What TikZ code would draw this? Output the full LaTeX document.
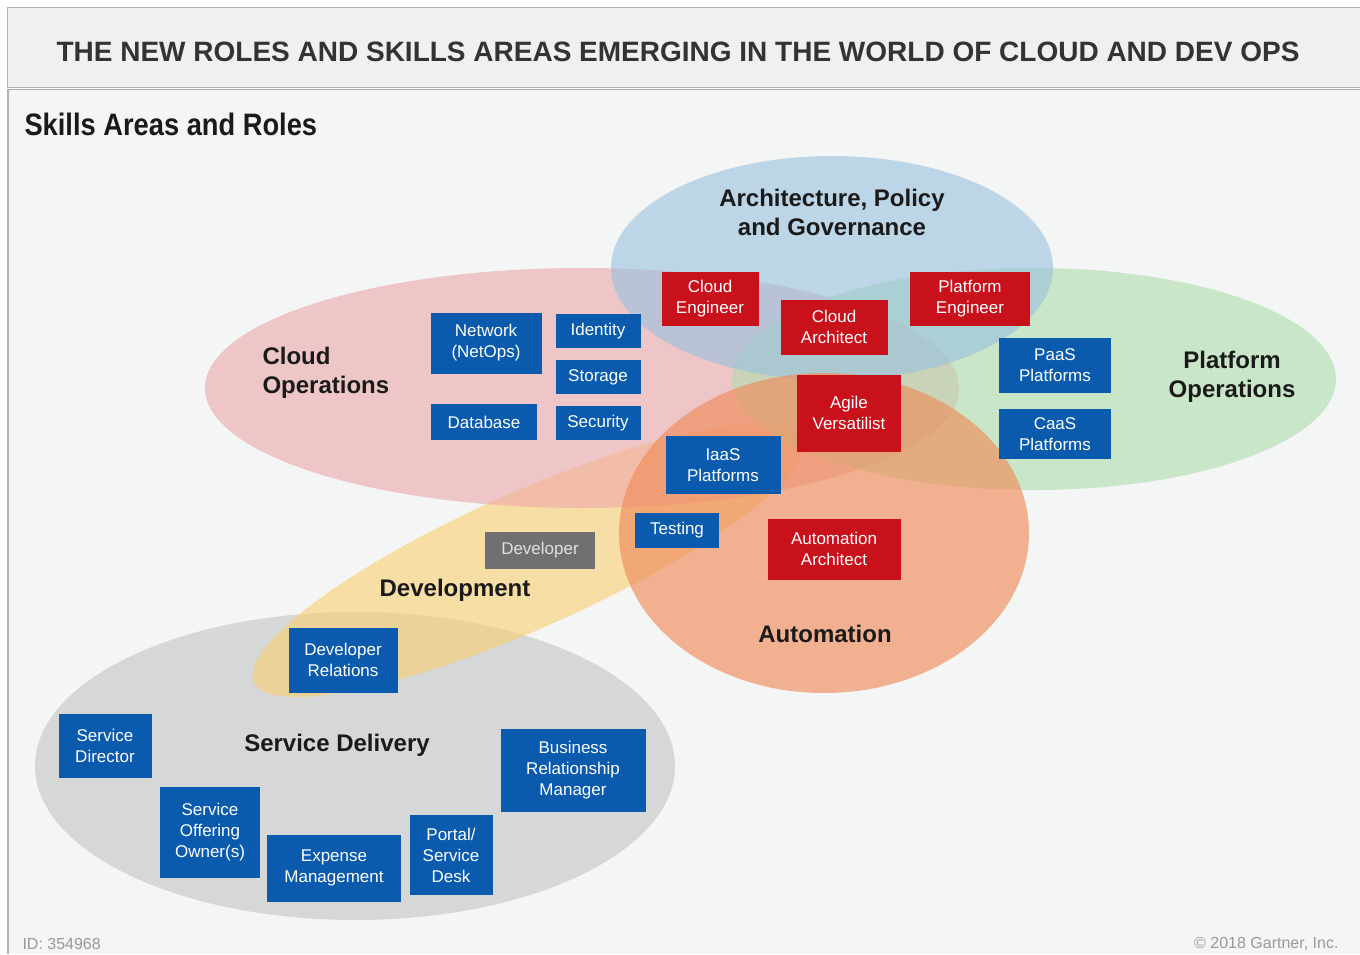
\documentclass[tikz,border=0pt]{standalone}
\usepackage{fontspec}
\setmainfont{Liberation Sans}
\newfontfamily\narrowfont{Liberation Sans}[FakeStretch=0.88]
\definecolor{boxblue}{HTML}{0A5BAE}
\definecolor{boxred}{HTML}{C8111B}
\definecolor{boxgray}{HTML}{707070}
\definecolor{labcol}{HTML}{1A1A1A}
\definecolor{headbg}{HTML}{F0F0F0}
\definecolor{panelbg}{HTML}{F4F5F5}
\definecolor{ellblue}{RGB}{152,192,223}
\definecolor{ellpink}{RGB}{237,168,170}
\definecolor{ellgreen}{RGB}{175,220,172}
\definecolor{ellorange}{RGB}{240,140,90}
\definecolor{ellyellow}{RGB}{250,207,112}
\definecolor{ellgray}{RGB}{195,195,195}
\begin{document}
\begin{tikzpicture}[x=1pt,y=-1pt,
  box/.style={fill=boxblue, text=white, align=center, inner sep=0pt, font=\fontsize{17}{21}\selectfont},
  rbox/.style={box, fill=boxred},
  gbox/.style={box, fill=boxgray, text=white!88!black},
  lab/.style={text=labcol, font=\fontsize{24}{29}\selectfont\bfseries, align=center},
  ell/.style={fill opacity=0.6},
  foot/.style={text=black!40, font=\fontsize{16}{18}\selectfont}]
\useasboundingbox (0,0) rectangle (1360,954);
\fill[white] (0,0) rectangle (1360,954);
% panel
\fill[panelbg] (8,89) rectangle (1360,954);
\draw[black!35] (8,89) -- (1360,89);
\draw[black!30, line width=1.5pt] (8,89) -- (8,954);
% header
\filldraw[fill=headbg, draw=black!30] (7,7) rectangle (1362,87);
\node[text=black!80, font=\fontsize{28}{32}\selectfont\bfseries] (title) at (678,52) {THE NEW ROLES AND SKILLS AREAS EMERGING IN THE WORLD OF CLOUD AND DEV OPS};
\node[anchor=west, text=labcol, font=\narrowfont\fontsize{31}{35}\selectfont\bfseries] (sub) at (21,124) {Skills Areas and Roles};

% ellipses
\fill[ell, ellgray] (355,766) ellipse [x radius=320pt, y radius=154pt];
\fill[ell, ellyellow, shift={(528,560)}, rotate=24] (0,0) ellipse [x radius=300pt, y radius=68pt];
\fill[ell, ellpink] (582,388) ellipse [x radius=377pt, y radius=120pt];
\fill[ell, ellgreen] (1034,379) ellipse [x radius=302pt, y radius=111pt];
\fill[ell, ellblue] (832,268) ellipse [x radius=221pt, y radius=112pt];
\fill[fill opacity=0.65, ellorange] (824,533) ellipse [x radius=205pt, y radius=160pt];

% area labels
\node[lab] (arch) at (832,212) {Architecture, Policy\\and Governance};
\node[lab, align=left, anchor=west] (cloudops) at (259,373) {Cloud\\Operations};
\node[lab] (platops) at (1232,377) {Platform\\Operations};
\node[lab] (dev) at (455,590) {Development};
\node[lab] (auto) at (825,634) {Automation};
\node[lab] (sd) at (337,745) {Service Delivery};

% boxes
\node[box, minimum width=111pt, minimum height=61pt] (netops) at (486,343) {Network\\(NetOps)};
\node[box, minimum width=85pt, minimum height=34pt] (identity) at (598,331) {Identity};
\node[box, minimum width=85pt, minimum height=34pt] (storage) at (598,377) {Storage};
\node[box, minimum width=106pt, minimum height=36pt] (database) at (484,422) {Database};
\node[box, minimum width=85pt, minimum height=34pt] (security) at (598,423) {Security};
\node[rbox, minimum width=97pt, minimum height=54pt] (ceng) at (710,299) {Cloud\\Engineer};
\node[rbox, minimum width=107pt, minimum height=55pt] (carch) at (834,327) {Cloud\\Architect};
\node[rbox, minimum width=120pt, minimum height=54pt] (peng) at (970,299) {Platform\\Engineer};
\node[box, minimum width=112pt, minimum height=55pt] (paas) at (1055,365) {PaaS\\Platforms};
\node[box, minimum width=112pt, minimum height=50pt] (caas) at (1055,434) {CaaS\\Platforms};
\node[rbox, minimum width=104pt, minimum height=77pt] (agile) at (849,413) {Agile\\Versatilist};
\node[box, minimum width=115pt, minimum height=58pt] (iaas) at (723,465) {IaaS\\Platforms};
\node[box, minimum width=84pt, minimum height=35pt] (testing) at (677,530) {Testing};
\node[rbox, minimum width=133pt, minimum height=61pt] (autoarch) at (834,549) {Automation\\Architect};
\node[gbox, minimum width=110pt, minimum height=37pt] (developer) at (540,550) {Developer};
\node[box, minimum width=109pt, minimum height=65pt] (devrel) at (343,660) {Developer\\Relations};
\node[box, minimum width=93pt, minimum height=64pt] (sdir) at (105,746) {Service\\Director};
\node[box, minimum width=100pt, minimum height=91pt] (soo) at (210,832) {Service\\Offering\\Owner(s)};
\node[box, minimum width=134pt, minimum height=67pt] (expense) at (334,868) {Expense\\Management};
\node[box, minimum width=83pt, minimum height=80pt] (portal) at (451,855) {Portal/\\Service\\Desk};
\node[box, minimum width=145pt, minimum height=83pt] (brm) at (573,770) {Business\\Relationship\\Manager};

% footer
\node[anchor=west, foot] (id) at (19,944) {ID: 354968};
\node[anchor=east, foot] (copy) at (1342,944) {\textcopyright{} 2018 Gartner, Inc.};
\end{tikzpicture}
\end{document}
